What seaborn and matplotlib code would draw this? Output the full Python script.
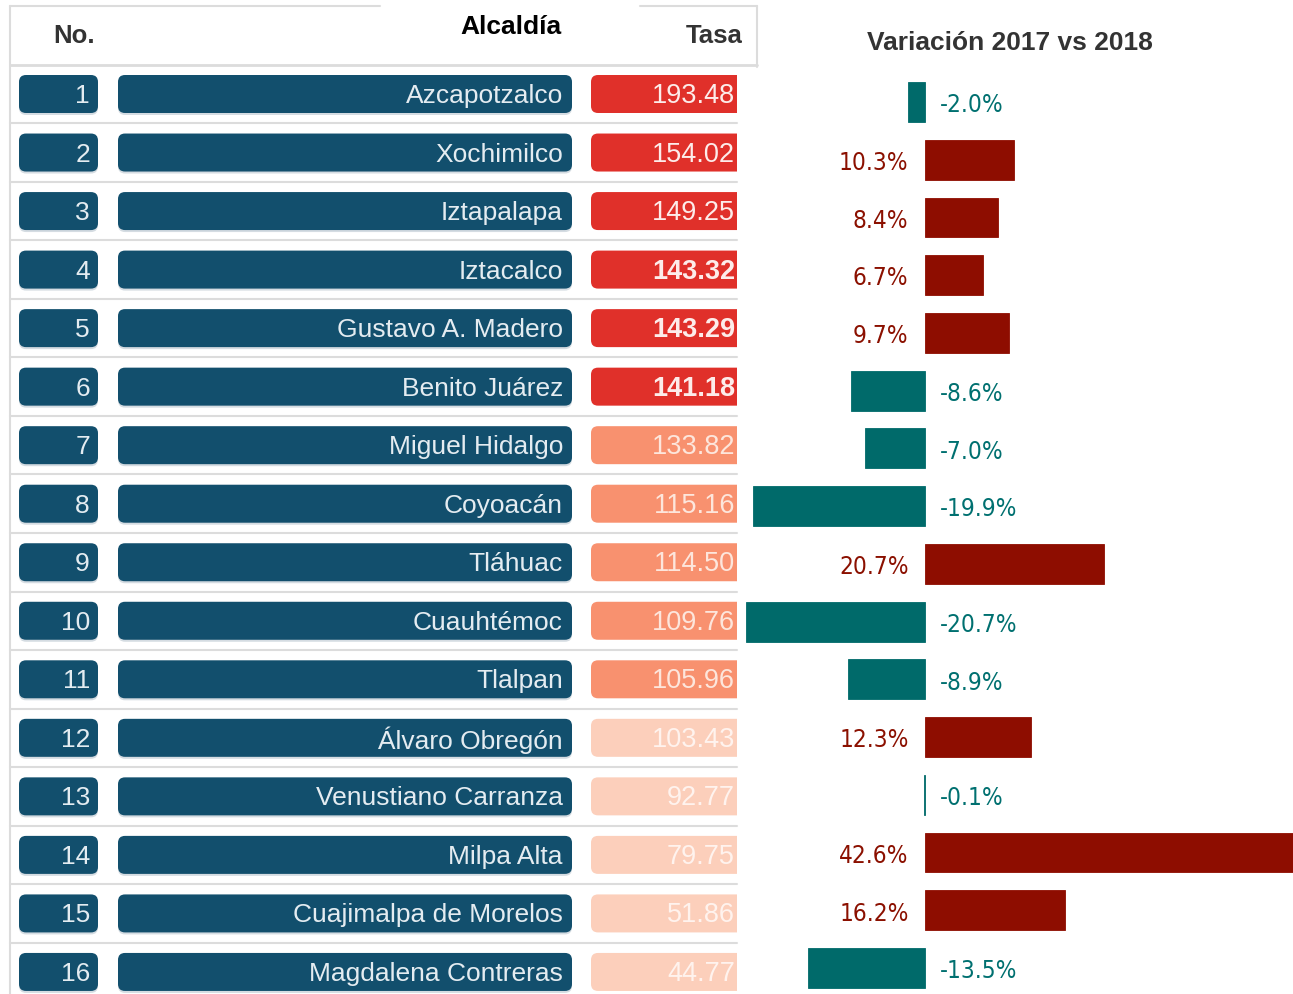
import numpy as np
import matplotlib
matplotlib.use('Agg')
import matplotlib.pyplot as plt
import seaborn as sns
from matplotlib import font_manager
from matplotlib.font_manager import FontProperties
from matplotlib.patches import FancyBboxPatch, Rectangle

numeros = list(range(1, 17))
alcaldias = ['Azcapotzalco', 'Xochimilco', 'Iztapalapa', 'Iztacalco', 'Gustavo A. Madero',
             'Benito Juárez', 'Miguel Hidalgo', 'Coyoacán', 'Tláhuac', 'Cuauhtémoc',
             'Tlalpan', 'Álvaro Obregón', 'Venustiano Carranza', 'Milpa Alta',
             'Cuajimalpa de Morelos', 'Magdalena Contreras']
tasas = [193.48, 154.02, 149.25, 143.32, 143.29, 141.18, 133.82, 115.16,
         114.50, 109.76, 105.96, 103.43, 92.77, 79.75, 51.86, 44.77]
variacion = [-2.0, 10.3, 8.4, 6.7, 9.7, -8.6, -7.0, -19.9,
             20.7, -20.7, -8.9, 12.3, -0.1, 42.6, 16.2, -13.5]

# look for a narrow / condensed sans for the percentage labels
fp_pct = None
for f in font_manager.fontManager.ttflist:
    nm = f.name.lower()
    if ('narrow' in nm or 'condensed' in nm or f.stretch in ('condensed', 'semi-condensed', 'extra-condensed')) \
            and f.weight in ('normal', 400, 'regular') and f.style == 'normal' and 'mono' not in nm:
        fp_pct = FontProperties(fname=f.fname, size=17.5)
        break
if fp_pct is None:
    fp_pct = FontProperties(family='Liberation Sans', size=16.5)

sns.set_style('white')
plt.rcParams['font.family'] = ['Liberation Sans', 'DejaVu Sans']

W, H = 1293, 995
fig = plt.figure(figsize=(W / 100, H / 100), dpi=100)

# ---- table (pixel coords) ----
ax = fig.add_axes([0, 0, 1, 1])
ax.set_xlim(0, W)
ax.set_ylim(H, 0)
ax.axis('off')

azul = '#124f6d'
gris = '#dcdcdc'
y0, paso = 95, 58.53

# header
ax.plot([10, 380], [7, 7], color=gris, lw=1.5)
ax.plot([640, 757], [7, 7], color=gris, lw=1.5)
ax.plot([757, 757], [7, 68], color=gris, lw=1.5)
ax.plot([10, 10], [7, H], color=gris, lw=1.5)
ax.plot([10, 757], [66, 66], color=gris, lw=2)
ax.text(53, 36, 'No.', fontsize=18.5, fontweight='bold', color='#333333', va='center')
ax.text(511, 27, 'Alcaldía', fontsize=19, fontweight='bold', color='black', va='center', ha='center')
ax.text(743, 36, 'Tasa', fontsize=18.5, fontweight='bold', color='#333333', va='center', ha='right')

clip = Rectangle((0, 0), 737, H, transform=ax.transData, visible=False)
ax.add_patch(clip)


def caja(x, y, w, h, color, sombra=True):
    if sombra:
        s = FancyBboxPatch((x, y + 2), w, h, boxstyle='round,pad=0,rounding_size=7',
                           fc='#b9c6cf', ec='none', alpha=0.6)
        ax.add_patch(s)
        s.set_clip_path(clip)
    p = FancyBboxPatch((x, y), w, h, boxstyle='round,pad=0,rounding_size=7',
                       fc=color, ec='none')
    ax.add_patch(p)
    p.set_clip_path(clip)


for i, (n, nombre, t) in enumerate(zip(numeros, alcaldias, tasas)):
    yc = y0 + i * paso
    hb = 38
    caja(19, yc - hb / 2, 79, hb, azul)
    caja(118, yc - hb / 2, 454, hb, azul)
    if t >= 140:
        ct, tc = '#e0302a', '#fdecea'
    elif t >= 105:
        ct, tc = '#f8916f', '#fde6dc'
    else:
        ct, tc = '#fccfbb', '#fff3ee'
    caja(591, yc - hb / 2, 180, hb, ct, sombra=False)
    ax.text(90, yc + 1, str(n), fontsize=19, color='#e4ecf1', ha='right', va='center')
    ax.text(563, yc + 1, nombre, fontsize=19, color='#e4ecf1', ha='right', va='center')
    ax.text(735, yc + 1, f'{t:.2f}', fontsize=19.5, color=tc, ha='right', va='center',
            fontweight='bold' if i in (3, 4, 5) else 'normal')
    ax.plot([10, 737], [yc + 29.3, yc + 29.3], color=gris, lw=1.5)

# ---- variation bars ----
top_px, bot_px = 74.1, 997.9
axb = fig.add_axes([744 / W, (H - bot_px) / H, 549 / W, (bot_px - top_px) / H])
signo = ['neg' if v < 0 else 'pos' for v in variacion]
pal = {'neg': '#006a6a', 'pos': '#8e0d00'}
sns.barplot(x=variacion, y=alcaldias, hue=signo, palette=pal,
            orient='h', width=0.69, dodge=False, legend=False, ax=axb, saturation=1)
for bar in axb.patches:
    bar.set_edgecolor(bar.get_facecolor())
    bar.set_linewidth(0.6)
axb.set_xlim(-20.95, 42.6)
axb.set_ylim(15.5, -0.5)
axb.axis('off')
for i, v in enumerate(variacion):
    if v < 0:
        axb.text(1.7, i + 0.04, f'{v:.1f}%', ha='left', va='center',
                 fontproperties=fp_pct, color='#007070')
    else:
        axb.text(-1.9, i + 0.04, f'{v:.1f}%', ha='right', va='center',
                 fontproperties=fp_pct, color='#8b1000')

fig.text(1010 / W, 1 - 43 / H, 'Variación 2017 vs 2018', ha='center', va='center',
         fontsize=19, fontweight='bold', color='#333333')

fig.savefig('out.png', dpi=100)
